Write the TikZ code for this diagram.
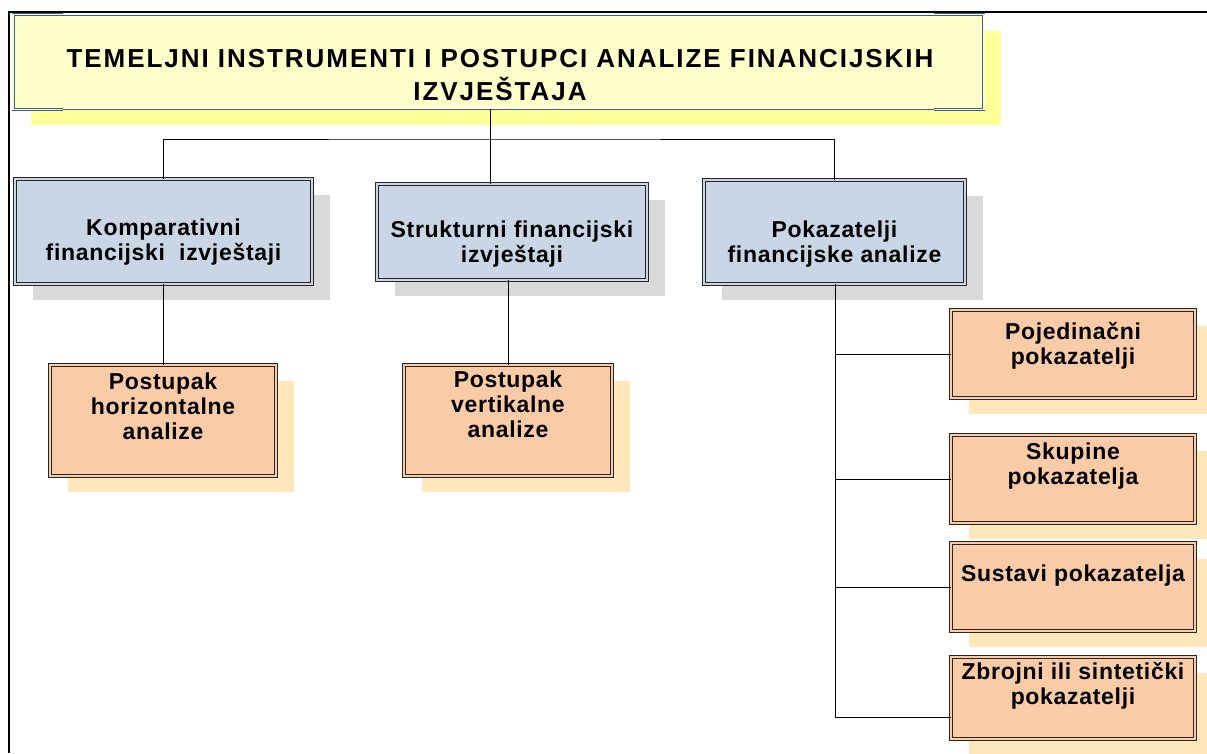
\documentclass[tikz,border=0pt]{standalone}
\usepackage{fontspec}
\setmainfont{Liberation Sans}
\newfontfamily\titlefont{Liberation Sans}[LetterSpace=7.5]
\newfontfamily\boxfont{Liberation Sans}[LetterSpace=3]
\usetikzlibrary{shadows,calc}

\definecolor{titlefill}{HTML}{FFFFCC}
\definecolor{titleshade}{HTML}{FFFF99}
\definecolor{titleedge}{HTML}{3C5A96}
\definecolor{midfill}{HTML}{C9D6E6}
\definecolor{midshade}{HTML}{D9D9D9}
\definecolor{leaffill}{HTML}{F9CBA7}
\definecolor{leafshade}{HTML}{FFE7BC}

\tikzset{
	box/.style={rectangle, inner sep=0pt, draw=black!85, line width=0.9pt,
		double distance=1.6pt},
	titlebox/.style={rectangle, inner sep=0pt, fill=titlefill, draw=titleedge,
		line width=0.6pt, minimum width=970pt, minimum height=94pt,
		drop shadow={shadow xshift=17pt, shadow yshift=-16pt, fill=titleshade, opacity=1}},
	midbox/.style={box, fill=midfill, double=midfill,
		drop shadow={shadow xshift=18pt, shadow yshift=-16pt, fill=midshade, opacity=1}},
	leafbox/.style={box, fill=leaffill, double=leaffill,
		drop shadow={shadow xshift=18pt, shadow yshift=-16pt, fill=leafshade, opacity=1}},
	boxtext/.style={anchor=north, inner sep=0pt, align=center,
		font=\boxfont\bfseries\fontsize{23}{25}\selectfont},
	titletext/.style={anchor=north, inner sep=0pt, align=center,
		font=\titlefont\bfseries\fontsize{26}{33}\selectfont},
	link/.style={line width=1pt, black},
}

\begin{document}
\begin{tikzpicture}[x=1pt,y=-1pt]
	\useasboundingbox (0,0) rectangle (1207,753);
	\clip (0,0) rectangle (1207,753);

	% Frame round the chart
	\draw [line width=2pt] (9,753) -- (9,12) -- (1207,12);

	% The title box and its double corner brackets
	\node [titlebox] (title) at (498.5,62) {};
	\draw [titleedge, line width=0.7pt, double=titlefill, double distance=1.5pt]
		([xshift=50pt]title.north west) -- (title.north west)
		-- (title.south west) -- ([xshift=50pt]title.south west);
	\draw [titleedge, line width=0.7pt, double=titlefill, double distance=1.5pt]
		([xshift=-50pt]title.north east) -- (title.north east)
		-- (title.south east) -- ([xshift=-50pt]title.south east);
	\node [titletext] (title text) at (500,49.5)
		{TEMELJNI INSTRUMENTI I POSTUPCI ANALIZE FINANCIJSKIH\\IZVJEŠTAJA};

	% Second level: the three instruments
	\node [midbox, minimum width=297pt, minimum height=105pt] (komp) at (163.5,231.5) {};
	\node [midbox, minimum width=270pt, minimum height=96pt] (strukt) at (512,232) {};
	\node [midbox, minimum width=261pt, minimum height=104pt] (pokaz) at (834.5,232) {};
	\node [boxtext] (komp text) at ([yshift=-40pt]komp.north)
		{Komparativni\\financijski\ \ izvještaji};
	\node [boxtext] (strukt text) at ([yshift=-37pt]strukt.north)
		{Strukturni financijski\\izvještaji};
	\node [boxtext] (pokaz text) at ([yshift=-41pt]pokaz.north)
		{Pokazatelji\\financijske analize};

	% Third level under the first two instruments
	\node [leafbox, minimum width=226pt, minimum height=111pt] (horiz) at (163,420.5) {};
	\node [leafbox, minimum width=208pt, minimum height=111pt] (vert) at (508,420.5) {};
	\node [boxtext] (horiz text) at ([yshift=-8pt]horiz.north)
		{Postupak\\horizontalne\\analize};
	\node [boxtext] (vert text) at ([yshift=-6pt]vert.north)
		{Postupak\\vertikalne\\analize};

	% Third level: the kinds of ratios
	\node [leafbox, minimum width=244pt, minimum height=88pt] (pojed) at (1073,354) {};
	\node [leafbox, minimum width=244pt, minimum height=88pt] (skup) at (1073,479) {};
	\node [leafbox, minimum width=244pt, minimum height=88pt] (sust) at (1073,587) {};
	\node [leafbox, minimum width=244pt, minimum height=82pt] (zbroj) at (1073,698) {};
	\node [boxtext] (pojed text) at ([yshift=-13pt]pojed.north)
		{Pojedinačni\\pokazatelji};
	\node [boxtext] (skup text) at ([yshift=-8pt]skup.north)
		{Skupine\\pokazatelja};
	\node [boxtext] (sust text) at ([yshift=-22pt]sust.north)
		{Sustavi pokazatelja};
	\node [boxtext] (zbroj text) at ([yshift=-6pt]zbroj.north)
		{Zbrojni ili sintetički\\pokazatelji};

	% Connectors from the title
	\coordinate (hub) at (490,139);
	\draw [link] (hub |- title.south) -- (hub |- strukt.north);
	\draw [link] (komp.north) |- (hub) -| (pokaz.north);

	% Connectors down to the procedures
	\draw [link] (horiz.north |- komp.south) -- (horiz.north);
	\draw [link] (vert.north |- strukt.south) -- (vert.north);

	% Trunk under the ratios box and its branches
	\coordinate (trunk end) at (835,717);
	\draw [link] (trunk end |- pokaz.south) -- (trunk end);
	\foreach \leaf in {pojed,skup,sust}
		\draw [link] (trunk end |- \leaf.west) -- (\leaf.west);
	\draw [link] (trunk end) -- (trunk end -| zbroj.west);
\end{tikzpicture}
\end{document}
